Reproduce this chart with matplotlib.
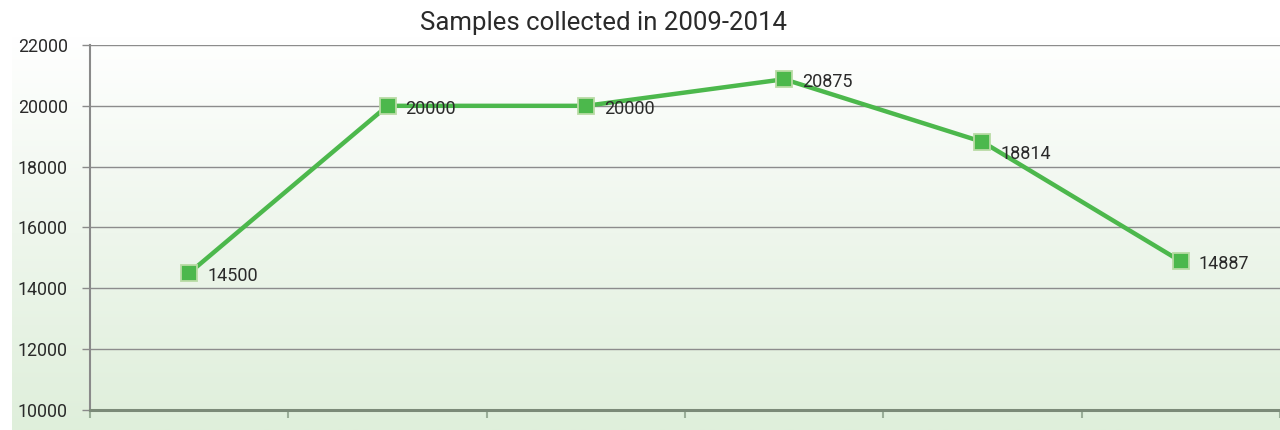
import numpy as np
import matplotlib
matplotlib.use("Agg")
import matplotlib.pyplot as plt
from matplotlib.colors import LinearSegmentedColormap

# samples per year
years = ["2009", "2010", "2011", "2012", "2013", "2014"]
samples = [14500, 20000, 20000, 20875, 18814, 14887]
y_ticks = [10000, 12000, 14000, 16000, 18000, 20000, 22000]

plt.rcParams["font.family"] = ["Roboto", "DejaVu Sans"]

W, H = 1280, 430
fig = plt.figure(figsize=(W / 100, H / 100), dpi=100)
fig.patch.set_facecolor("white")

# soft white-to-green backdrop behind the plot
bg = fig.add_axes([12 / W, 0, 1 - 12 / W, 1 - 36 / H], zorder=0)
cmap = LinearSegmentedColormap.from_list("bg", ["#dfefdb", "#eef6ec", "#ffffff"])
bg.imshow(np.linspace(0, 1, 256).reshape(-1, 1)[::-1], aspect="auto", cmap=cmap,
          extent=[0, 1, 0, 1])
bg.axis("off")

ax = fig.add_axes([90 / W, 20 / H, 1 - 90 / W, (410 - 45) / H], zorder=1)
ax.patch.set_alpha(0)

x = np.arange(len(years))
ax.plot(x, samples, color="#4cb84c", lw=3.2, zorder=3, solid_capstyle="round")
ax.plot(x, samples, ls="none", marker="s", ms=11, mfc="#4cb84c",
        mec="#b9dba5", mew=1.3, zorder=4)

for i, (xi, v) in enumerate(zip(x, samples)):
    # the 2013 label sits a little lower so it clears the falling line
    dy = -9 if i == 4 else -2
    ax.annotate(str(v), (xi, v), xytext=(13, dy), textcoords="offset points",
                fontsize=13, color="#2a2a2a", va="center", ha="left", zorder=5)

ax.set_xlim(-0.5, len(years) - 0.5)
ax.set_ylim(10000, 22000)
ax.set_yticks(y_ticks)
ax.set_yticklabels([str(t) for t in y_ticks], fontsize=12.8, color="#2a2a2a")
ax.set_xticks(np.arange(-0.5, len(years), 1.0))
ax.set_xticklabels([])

ax.grid(axis="y", color="#8c8c8c", lw=1.0)
ax.set_axisbelow(True)
for side in ("top", "right"):
    ax.spines[side].set_visible(False)
ax.spines["left"].set_color("#8a8a8a")
ax.spines["left"].set_linewidth(1.5)
ax.spines["bottom"].set_color("#7b8a78")
ax.spines["bottom"].set_linewidth(2.2)
ax.tick_params(axis="y", length=6, width=1.0, color="#8a8a8a", pad=10)
ax.tick_params(axis="x", length=6, width=1.5, color="#9aae98")

fig.text(603 / W, 1 - 23 / H, "Samples collected in 2009-2014", ha="center",
         va="center", fontsize=18.5, color="#2a2a2a")

fig.savefig("out.png", dpi=100, facecolor=fig.get_facecolor())
